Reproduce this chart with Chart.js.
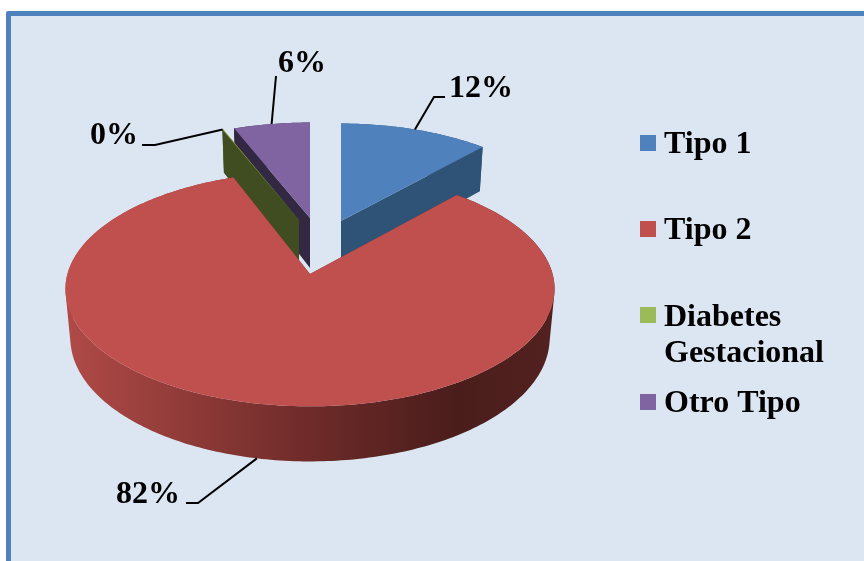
<!DOCTYPE html>
<html>
<head>
<meta charset="utf-8">
<title>Tipos de diabetes</title>
<script src="https://cdn.jsdelivr.net/npm/chart.js@4"></script>
<style>
  html, body { margin: 0; padding: 0; width: 864px; height: 561px; overflow: hidden; background: #fff; }
  #panel { position: absolute; left: 6px; top: 11px; width: 900px; height: 600px; box-sizing: border-box;
           background: #DCE6F2; border: 5.5px solid #4F81BD; border-radius: 2px; }
  canvas { position: absolute; left: 0; top: 0; }
</style>
</head>
<body>
<div id="panel"></div>
<canvas id="pieChart" width="864" height="561"></canvas>
<script>
const categories = ['Tipo 1', 'Tipo 2', 'Diabetes Gestacional', 'Otro Tipo'];
const percentages = [12, 82, 0.05, 5.95];

const topColors = ['#4F81BD', '#C0504D', '#9BBB59', '#8064A2'];
const cutColors = ['#2F5277', '#7A2F2D', '#3F4D21', '#322842'];

// perspective of the tilted disc
const view = { rx: 241, ry: 114, persp: 0.17, depth: 48, lowScale: 0.98 };
// where each exploded slice sits, and its label
const sliceLayout = [
  { x: 341, y: 221, sx: 0.965, tipDy: 0, elbow: [[434, 97], [445, 97]], text: [449, 97] },
  { x: 310, y: 269, sx: 1, tipDy: 5, low: true, elbow: [[198, 503], [186, 503]], text: [116, 503] },
  { x: 299, y: 221, sx: 1, tipDy: -1, elbow: [[155, 145], [142, 145]], text: [90, 144] },
  { x: 310, y: 220, sx: 1, tipDy: -2, elbow: [[276, 76]], text: [278, 72] }
];

const serif = 'bold 32px "Liberation Serif", "Times New Roman", serif';

function project(s, theta, low) {
  const u = Math.sin(theta), v = Math.cos(theta);
  const w = 1 + view.persp * v;
  const k = low ? view.lowScale : 1;
  return [s.x + view.rx * s.sx * k * u / w, s.y - view.ry * k * v / w + (low ? view.depth / w : 0)];
}

function rim(theta0, theta1, s, low) {
  const n = Math.max(2, Math.ceil(Math.abs(theta1 - theta0) * 60));
  const pts = [];
  for (let i = 0; i <= n; i++) pts.push(project(s, theta0 + (theta1 - theta0) * i / n, low));
  return pts;
}

function tracePoly(ctx, pts) {
  pts.forEach((p, i) => i ? ctx.lineTo(p[0], p[1]) : ctx.moveTo(p[0], p[1]));
  ctx.closePath();
}

function fillPoly(ctx, pts, color) {
  ctx.beginPath();
  tracePoly(ctx, pts);
  ctx.fillStyle = color;
  ctx.fill();
}

function signedArea(q) {
  let sum = 0;
  q.forEach((p, i) => {
    const r = q[(i + 1) % q.length];
    sum += p[0] * r[1] - r[0] * p[1];
  });
  return sum;
}

const tiltedPie = {
  id: 'tiltedPie',
  beforeDatasetDraw(chart) {
    const ctx = chart.ctx;
    const arcs = chart.getDatasetMeta(0).data;
    const slices = arcs.map((arc, i) => ({
      i,
      a0: arc.startAngle + Math.PI / 2,
      a1: arc.endAngle + Math.PI / 2,
      s: sliceLayout[i]
    }));
    // back slices first
    const order = slices.slice().sort((p, q) => Math.cos((q.a0 + q.a1) / 2) - Math.cos((p.a0 + p.a1) / 2));

    order.forEach(({ i, a0, a1, s }) => {
      const tip = [s.x, s.y + s.tipDy];
      const tipLow = [s.x, s.y + view.depth];
      // cut faces
      [a0, a1].forEach(a => {
        fillPoly(ctx, [tip, project(s, a, false), project(s, a, true), tipLow], cutColors[i]);
      });
      // outer wall, lit from the left
      const grad = ctx.createLinearGradient(66, 0, 554, 0);
      if (i === 1) {
        grad.addColorStop(0, '#B04A47');
        grad.addColorStop(0.5, '#6E2B29');
        grad.addColorStop(0.8, '#4A1D1B');
        grad.addColorStop(1, '#522120');
      } else {
        grad.addColorStop(0, cutColors[i]);
        grad.addColorStop(1, cutColors[i]);
      }
      const up = rim(a0, a1, s, false), down = rim(a0, a1, s, true);
      ctx.beginPath();
      for (let n = 0; n < up.length - 1; n++) {
        const quad = [up[n], up[n + 1], down[n + 1], down[n]];
        if (signedArea(quad) < 0) quad.reverse();
        tracePoly(ctx, quad);
      }
      ctx.fillStyle = grad;
      ctx.fill();
      // top face
      fillPoly(ctx, [tip].concat(up), topColors[i]);
    });

    // labels with leader lines
    ctx.font = serif;
    ctx.textBaseline = 'alphabetic';
    ctx.textAlign = 'left';
    slices.forEach(({ i, a0, a1, s }) => {
      const start = project(s, (a0 + a1) / 2, !!s.low);
      ctx.beginPath();
      ctx.moveTo(start[0], start[1]);
      s.elbow.forEach(p => ctx.lineTo(p[0], p[1]));
      ctx.strokeStyle = '#000';
      ctx.lineWidth = 2;
      ctx.stroke();
      ctx.fillStyle = '#000';
      ctx.fillText(Math.round(percentages[i]) + '%', s.text[0], s.text[1]);
    });
    return false;
  }
};

const boxLegend = {
  id: 'boxLegend',
  afterDraw(chart) {
    const ctx = chart.ctx;
    const rows = [
      { box: 135, lines: [153] },
      { box: 221, lines: [239] },
      { box: 307, lines: [326, 362] },
      { box: 394, lines: [412] }
    ];
    ctx.font = serif;
    ctx.textAlign = 'left';
    ctx.textBaseline = 'alphabetic';
    chart.data.labels.forEach((label, i) => {
      ctx.fillStyle = topColors[i];
      ctx.fillRect(640, rows[i].box, 16, 16);
      ctx.fillStyle = '#000';
      const words = rows[i].lines.length > 1 ? label.split(' ') : [label];
      words.forEach((w, j) => ctx.fillText(w, 664, rows[i].lines[j]));
    });
  }
};

new Chart(document.getElementById('pieChart'), {
  type: 'pie',
  data: {
    labels: categories,
    datasets: [{ data: percentages, backgroundColor: topColors, borderWidth: 0 }]
  },
  options: {
    responsive: false,
    animation: false,
    events: [],
    plugins: { legend: { display: false }, tooltip: { enabled: false } }
  },
  plugins: [tiltedPie, boxLegend]
});
</script>
</body>
</html>
